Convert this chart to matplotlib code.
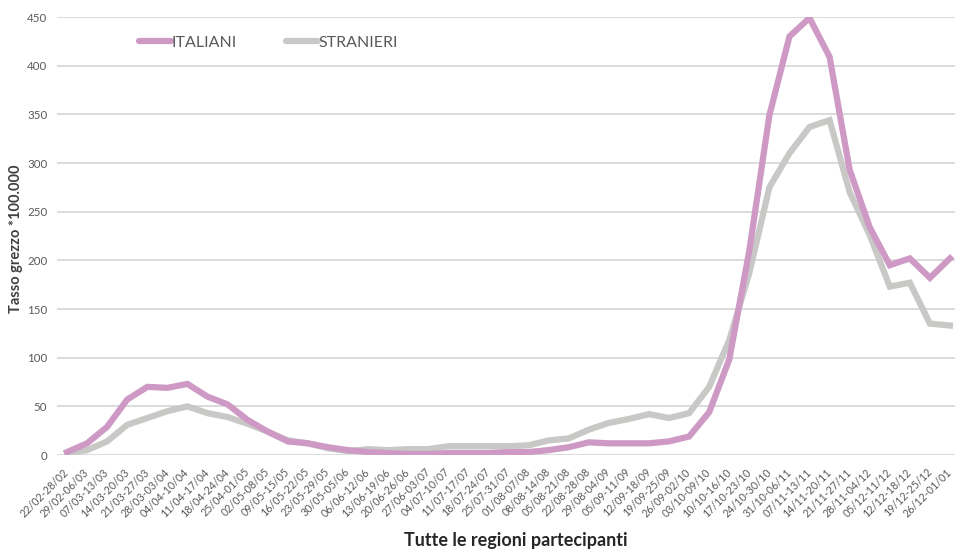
import matplotlib
matplotlib.use("Agg")
import matplotlib.pyplot as plt

plt.rcParams['font.family'] = ['Lato', 'DejaVu Sans']

settimane = ["22/02-28/02", "29/02-06/03", "07/03-13/03", "14/03-20/03", "21/03-27/03",
             "28/03-03/04", "04/04-10/04", "11/04-17/04", "18/04-24/04", "25/04-01/05",
             "02/05-08/05", "09/05-15/05", "16/05-22/05", "23/05-29/05", "30/05-05/06",
             "06/06-12/06", "13/06-19/06", "20/06-26/06", "27/06-03/07", "04/07-10/07",
             "11/07-17/07", "18/07-24/07", "25/07-31/07", "01/08-07/08", "08/08-14/08",
             "05/08-21/08", "22/08-28/08", "29/08-04/09", "05/09-11/09", "12/09-18/09",
             "19/09-25/09", "26/09-02/10", "03/10-09/10", "10/10-16/10", "17/10-23/10",
             "24/10-30/10", "31/10-06/11", "07/11-13/11", "14/11-20/11", "21/11-27/11",
             "28/11-04/12", "05/12-11/12", "12/12-18/12", "19/12-25/12", "26/12-01/01"]

italiani = [3, 12, 29, 57, 70, 69, 73, 60, 52, 36,
            24, 14, 12, 8, 5, 3, 2, 1, 1, 2,
            2, 2, 3, 3, 5, 8, 13, 12, 12, 12,
            14, 19, 44, 98, 210, 349, 430, 449, 409, 293,
            234, 195, 202, 182, 202]

stranieri = [2, 5, 14, 31, 38, 45, 50, 43, 39, 32,
             24, 15, 12, 7, 4, 6, 5, 6, 6, 9,
             9, 9, 9, 10, 15, 17, 26, 33, 37, 42,
             38, 43, 70, 118, 187, 275, 310, 337, 344, 270,
             226, 173, 177, 135, 133]

testo = "#595959"

fig = plt.figure(figsize=(9.55, 5.49), dpi=100)
ax = fig.add_axes([57 / 955, 1 - 455 / 549, 1 - 57 / 955, (455 - 17) / 549])

x = range(len(settimane))
ax.plot(x, italiani, color="#CE9AC5", linewidth=4.5, solid_joinstyle="miter", label="ITALIANI", zorder=3)
ax.plot(x, stranieri, color="#C8C8C6", linewidth=4.5, solid_joinstyle="miter", label="STRANIERI", zorder=2)

ax.set_xlim(-0.5, 44.25)
ax.set_ylim(0, 450)
ax.set_yticks(range(0, 451, 50))
ax.set_xticks(list(x))
ax.set_xticklabels(settimane, rotation=45, ha="right", va="center", rotation_mode="anchor",
                   fontsize=7.7, color=testo)
ax.tick_params(axis="y", labelsize=8.3, labelcolor=testo, length=0, pad=7)
ax.tick_params(axis="x", length=0, pad=11)
ax.grid(axis="y", color="#D9D9D9", linewidth=1.3)
ax.set_axisbelow(True)
for s in ax.spines.values():
    s.set_visible(False)

fig.text(0.540, 0.0, "Tutte le regioni partecipanti", ha="center", va="bottom",
         fontsize=13, fontweight="bold", color="#262626")
fig.text(0.017, 0.566, "Tasso grezzo *100.000", ha="center", va="center", rotation=90,
         fontsize=10.5, fontweight="bold", color="#404040")

leg = ax.legend(loc="upper left", bbox_to_anchor=(0.075, 0.99), ncol=2, frameon=False,
                fontsize=11.5, handlelength=2.0, handletextpad=0.05, columnspacing=3.1)
for t in leg.get_texts():
    t.set_color(testo)
for h in leg.get_lines():
    h.set_solid_capstyle("round")

fig.savefig("out.png", dpi=100)
